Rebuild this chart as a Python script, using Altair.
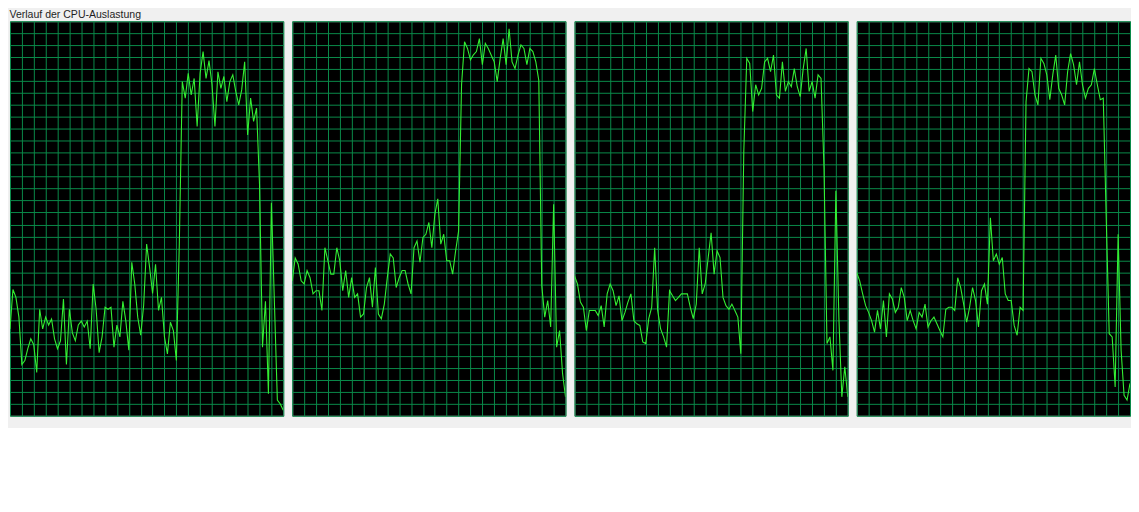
import altair as alt
import pandas as pd

title_text = "Verlauf der CPU-Auslastung"

cpu0 = [22, 32, 30, 25, 13, 14, 17, 19.5, 18, 11, 27, 22, 25, 23, 24.5, 19.5, 17, 19, 29.6, 13,
        27, 21, 19, 23, 24, 22.5, 24, 17, 33.4, 27, 16, 20, 27.5, 27, 27.5, 17.4, 23, 20, 29, 24,
        16.6, 38.9, 33.4, 25, 20.4, 28, 43.5, 37.6, 31, 38.4, 26.7, 30, 20, 15.7, 23.7, 21.6, 14, 43.5, 84.7, 80.5,
        86.8, 81.3, 85.5, 73.3, 86.8, 92.3, 85.5, 90, 83.9, 73.3, 87.2, 83, 86, 79.6, 84.7, 86.4, 82.2, 78.8, 82.6, 89.7,
        71.2, 80.5, 74.6, 78, 58.6, 17.4, 29, 5.6, 54, 29, 4, 3, 1.4]

cpu1 = [34.2, 40, 38.4, 34.2, 33.4, 36.8, 35, 30.9, 31.7, 31.7, 26.7, 42.6, 39.3, 35.9, 35.9, 42.6, 39.3, 31.7, 36.8, 30,
        35, 30, 30.9, 25, 25.8, 32.5, 35, 27.5, 37.6, 25.8, 24.6, 28.3, 35, 41, 40, 32.5, 35, 36.8, 36.8, 33.4,
        30.9, 42.6, 44.3, 38.9, 45.2, 46, 49, 42.6, 51, 55, 43.5, 46, 39.3, 39.3, 35.9, 41.8, 46.8, 83.9, 94.8, 93.1,
        90.2, 91.5, 92.3, 95.6, 89, 94.4, 93.1, 91.4, 89.7, 84.7, 90.6, 95.6, 89, 98.1, 89.7, 88, 91.4, 94, 93.1, 89,
        93.1, 92.3, 89.7, 85, 33, 25, 29.2, 22.5, 53.6, 17.4, 21.6, 10.7, 4.8]

cpu2 = [35.5, 33.4, 28.8, 27.5, 21.6, 26.7, 26.7, 26.7, 25.4, 27.9, 22.5, 30.9, 33.4, 31.7, 27.9, 30.4, 24.1, 26.2, 28.8, 30.9,
        24.1, 23.3, 22.9, 18.7, 18.3, 24.6, 27.5, 42.6, 26.7, 22, 20, 17.4, 31.7, 30.4, 29.2, 30, 30.9, 30.9, 30.9, 27.5,
        24.6, 28.3, 42.6, 30.9, 33.4, 40, 46.4, 35.9, 41.8, 40.1, 30, 27.9, 27, 28.3, 26.7, 25, 15.7, 67, 90.6, 89.3,
        77.1, 83.9, 81.3, 83, 89.7, 90.6, 87.2, 91.4, 81.3, 80.5, 89.7, 82.2, 84.7, 83.4, 88, 83.4, 80.9, 88, 93.1, 82.2,
        84.7, 80.5, 86.4, 85.5, 62.8, 18.3, 20, 11.5, 57, 25, 4.8, 12.4, 4.8]

cpu3 = [36.3, 34.2, 30.9, 27.9, 26.2, 24.1, 21.2, 26.7, 22, 29.2, 20, 30.9, 29.6, 26.2, 27.5, 32.5, 30, 24.1, 26.7, 24.1,
        22, 26.2, 25, 28.3, 22.5, 24.1, 25, 23.3, 21.6, 20, 27, 27.5, 27.5, 26.7, 35, 32.5, 28.3, 23.7, 27.5, 32.5,
        29.2, 22.5, 31.7, 33.4, 28.3, 50.2, 39.3, 41, 38.4, 40.1, 30.9, 29.2, 29.2, 22.9, 20.4, 27.5, 26.7, 79.6, 88, 87.2,
        81.3, 78.8, 90.6, 89.3, 86.4, 80.1, 86.4, 91.4, 83, 81.3, 78.8, 87.2, 91.8, 89, 83.9, 89.7, 83.9, 80.5, 83, 83.9,
        88, 83.9, 80.1, 80.5, 50, 20.8, 20, 7.3, 46, 16.6, 5.2, 4, 8.2]

series = [cpu0, cpu1, cpu2, cpu3]

x_grid = list(range(0, 93, 4))
y_grid = [i * 100 / 33 for i in range(34)]

grid_color = "#0a8a4a"
line_color = "#33ee33"

panels = []
for vals in series:
    df = pd.DataFrame({"t": list(range(len(vals))), "cpu": vals})
    p = alt.Chart(df).mark_line(color=line_color, strokeWidth=1.1, clip=True).encode(
        x=alt.X("t:Q", scale=alt.Scale(domain=[0, 92], nice=False, zero=False),
                axis=alt.Axis(values=x_grid, grid=True, gridColor=grid_color, gridOpacity=1,
                              gridWidth=1, labels=False, ticks=False, domain=False, title=None)),
        y=alt.Y("cpu:Q", scale=alt.Scale(domain=[0, 100], nice=False),
                axis=alt.Axis(values=y_grid, grid=True, gridColor=grid_color, gridOpacity=1,
                              gridWidth=1, labels=False, ticks=False, domain=False, title=None)),
    ).properties(width=275, height=397)
    panels.append(p)

chart = alt.hconcat(*panels, spacing=7).properties(
    title=alt.TitleParams(title_text, anchor="start", fontSize=10.6, font="Liberation Sans",
                          fontWeight="normal", color="#1e1e1e", offset=0),
    padding={"left": 1, "top": 0, "right": 0, "bottom": 10},
    background="#f0f0f0",
).configure_view(fill="#000000", stroke="#9a9a9a", strokeWidth=1)

chart.save("out.html", embed_options={"renderer": "svg", "actions": False})
